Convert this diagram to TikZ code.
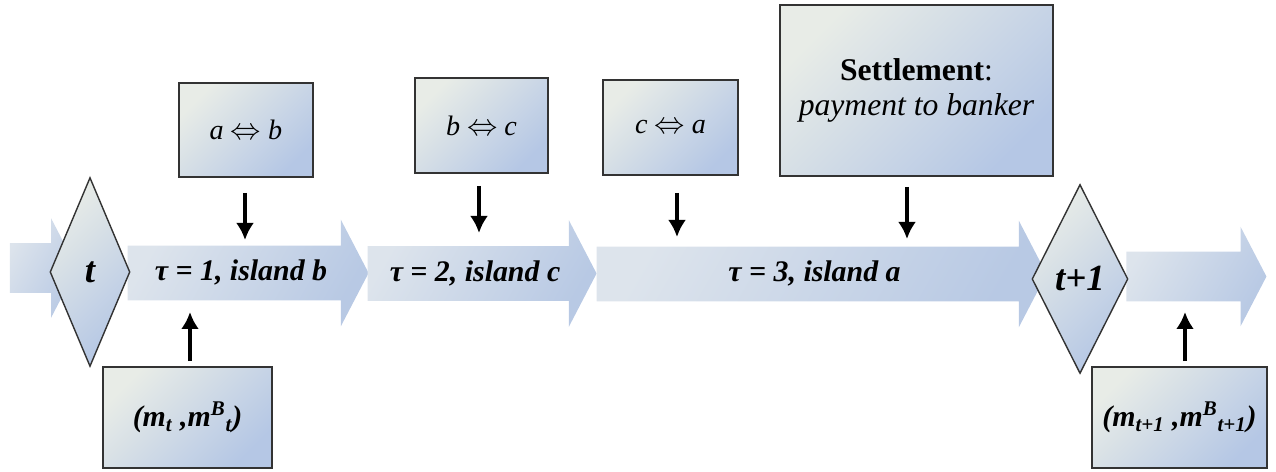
\documentclass[tikz,border=0pt]{standalone}
\usepackage{fontspec}
\setmainfont{Liberation Serif}
\usetikzlibrary{
  positioning,
  arrows.meta,
  shapes.geometric,
  shapes.arrows,
  calc
}
\definecolor{paleL}{HTML}{E8ECE7}
\definecolor{paleR}{HTML}{B5C7E5}
\definecolor{flowL}{HTML}{DDE4EC}
\definecolor{flowR}{HTML}{B8C9E4}
\tikzset{
  >=Latex,
  timearrow/.style={single arrow,draw=none,top color=flowL,bottom color=flowR,shading angle=60,
    single arrow head extend=0.52cm,single arrow tip angle=125,inner xsep=0pt,inner ysep=0pt,
    text height=0.7cm,text depth=0.38cm,font=\fontsize{17}{20}\selectfont\bfseries\itshape},
  shortarrow/.style={text height=0.64cm,text depth=0.34cm,single arrow head extend=0.5cm},
  datebox/.style={diamond,draw=black!80,line width=0.8pt,top color=paleL,bottom color=paleR,shading angle=45,
    inner sep=0pt,minimum height=3.78cm,font=\fontsize{21}{24}\selectfont\bfseries\itshape},
  event/.style={rectangle,draw=black!80,line width=1.1pt,top color=paleL,bottom color=paleR,shading angle=45,
    align=center,inner sep=2pt,font=\fontsize{16}{20}\selectfont},
  stock/.style={event,font=\fontsize{17}{20}\selectfont\bfseries\itshape},
  shock/.style={-{Latex[length=0.34cm,width=0.36cm]},line width=2pt}
}

\begin{document}
\begin{tikzpicture}[x=0.02cm,y=-0.02cm]
    \useasboundingbox (0,0) rectangle (1276,472);
    % time line
    \node[timearrow,shortarrow,minimum height=1.34cm] (tau0) at (37,268) {};
    \node[timearrow,minimum height=4.82cm] (tau1) at (241,273) {τ = 1, island b};
    \node[timearrow,minimum height=4.58cm] (tau2) at (475,273.5) {τ = 2, island c};
    \node[timearrow,minimum height=9.0cm] (tau3) at (814.5,274) {τ = 3, island a};
    \node[timearrow,shortarrow,minimum height=2.8cm] (tau4) at (1190,276.5) {};

    \node[datebox,minimum width=1.6cm] (d0) at (90,272) {t};
    \node[datebox,minimum width=1.92cm] (d1) at (1080,279) {t+1};

    % trades and settlement
    \node[event,minimum width=2.68cm,minimum height=1.88cm] (ab) at (246,130) {\textit{a} $\Leftrightarrow$ \textit{b}};
    \node[event,minimum width=2.66cm,minimum height=1.9cm] (bc) at (481.5,125.5) {\textit{b} $\Leftrightarrow$ \textit{c}};
    \node[event,minimum width=2.7cm,minimum height=1.9cm] (ca) at (670.5,127.5) {\textit{c} $\Leftrightarrow$ \textit{a}};
    \node[event,minimum width=5.46cm,minimum height=3.42cm,font=\fontsize{18}{20}\selectfont] (sett) at (916.5,90.5)
        {\textbf{Settlement}:\\\textit{payment to banker}};

    % money holdings
    \node[stock,minimum width=3.38cm,minimum height=2.02cm] (mt) at (187.5,417.5)
        {(m\textsubscript{t} ,m\textsuperscript{B}\textsubscript{t})};
    \node[stock,minimum width=3.5cm,minimum height=2.02cm] (mt1) at (1179.5,417.5)
        {(m\textsubscript{t+1} ,m\textsuperscript{B}\textsubscript{t+1})};

    \coordinate (hit1) at (245,240);
    \coordinate (hit2) at (479,233);
    \coordinate (hit3) at (677,237);
    \coordinate (hit4) at (907,239);
    \coordinate (hit5) at (190,312);
    \coordinate (hit6) at (1185,312);

    \draw[shock,shorten <=0.3cm] (hit1 |- ab.south) -- (hit1);
    \draw[shock,shorten <=0.24cm] (hit2 |- bc.south) -- (hit2);
    \draw[shock,shorten <=0.34cm] (hit3 |- ca.south) -- (hit3);
    \draw[shock,shorten <=0.2cm] (hit4 |- sett.south) -- (hit4);
    \draw[shock,shorten <=0.1cm] (hit5 |- mt.north) -- (hit5);
    \draw[shock,shorten <=0.1cm] (hit6 |- mt1.north) -- (hit6);
\end{tikzpicture}
\end{document}
